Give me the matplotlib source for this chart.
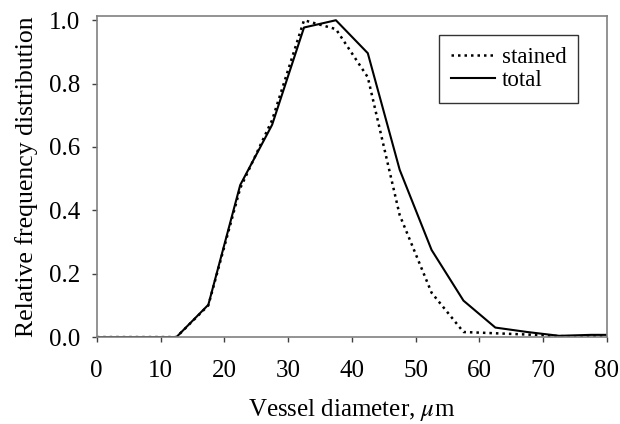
import matplotlib
matplotlib.use('Agg')
import matplotlib.pyplot as plt
import numpy as np

plt.rcParams['font.family'] = ['Liberation Serif', 'DejaVu Serif']
plt.rcParams['mathtext.fontset'] = 'stix'

# bin centres (um), with the ends of the axis
diameter = [0, 2.5, 7.5, 12.5, 17.5, 22.5, 27.5, 32.5, 37.5, 42.5, 47.5,
            52.5, 57.5, 62.5, 67.5, 72.5, 77.5, 80]
stained = [0, 0, 0, 0, 0.10, 0.47, 0.685, 1.0, 0.972, 0.82, 0.385,
           0.14, 0.016, 0.012, 0.008, 0.003, 0.002, 0.002]
total = [0, 0, 0, 0, 0.102, 0.48, 0.67, 0.977, 1.0, 0.896, 0.528,
         0.275, 0.115, 0.03, 0.016, 0.004, 0.007, 0.007]

fig = plt.figure(figsize=(6.2, 4.24), dpi=100)
ax = fig.add_axes([0.156, 0.205, 0.823, 0.757])

ax.plot(diameter, stained, color='black', lw=1.8, linestyle=(0, (1, 1.6)),
        label='stained')
ax.plot(diameter, total, color='black', lw=1.5, label='total')

ax.set_xlim(0, 80)
ax.set_ylim(0, 1.013)
ax.set_xticks(np.arange(0, 81, 10))
ax.set_yticks(np.arange(0, 1.01, 0.2))
ax.set_yticklabels(['%.1f' % v for v in np.arange(0, 1.01, 0.2)])

for s in ax.spines.values():
    s.set_color('#808080')
    s.set_linewidth(1.2)
ax.tick_params(direction='out', length=3.6, width=1, color='#404040',
               labelsize=18)
ax.tick_params(axis='x', pad=13)
ax.tick_params(axis='y', pad=8)

ax.set_xlabel(r'Vessel diameter, $\mu$m', fontsize=18, labelpad=11)
ax.set_ylabel('Relative frequency distribution', fontsize=18.5, labelpad=8)

leg = ax.legend(loc='upper left', bbox_to_anchor=(0.671, 0.941), fontsize=16.5,
                frameon=True, fancybox=False, handlelength=1.95,
                borderpad=0.5, labelspacing=0.12, handletextpad=0.3,
                borderaxespad=0)
leg.get_frame().set_edgecolor('black')
leg.get_frame().set_linewidth(1.0)

fig.savefig('out.png', dpi=100)
